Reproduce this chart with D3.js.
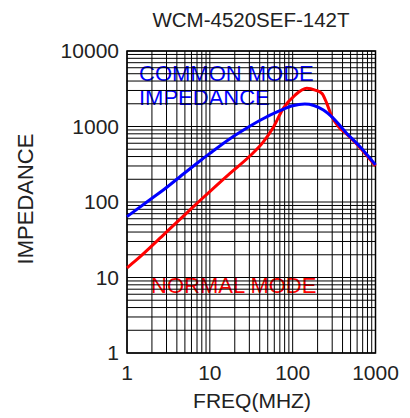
<!DOCTYPE html>
<html>
<head>
<meta charset="utf-8">
<script src="https://cdn.jsdelivr.net/npm/d3@7"></script>
<style>
  body { margin: 0; background: #fff; }
  text { font-family: Arial, "Liberation Sans", sans-serif; }
</style>
</head>
<body>
<div class="canvas"></div>
<script>
const title = "WCM-4520SEF-142T";
const xTicks = [1, 10, 100, 1000];
const yTicks = [1, 10, 100, 1000, 10000];

// common mode impedance
const cmFreq = [1, 2, 2.74, 5, 7, 10, 17.5, 30, 40, 70, 100, 140, 180, 235, 310, 450, 650, 1000];
const cmImp = [64, 112, 144, 244, 326, 440, 690, 1000, 1200, 1620, 1880, 1980, 1900, 1650, 1280, 810, 540, 310];

// normal mode impedance
const nmFreq = [1, 1.3, 2.74, 7, 17.5, 30, 44, 58, 77, 107, 148, 187, 225, 258, 297, 350, 450, 650, 1000];
const nmImp = [13.4, 17.1, 36.5, 96, 240, 400, 620, 960, 1740, 2610, 3200, 3040, 2750, 2030, 1350, 1020, 790, 525, 300];

const dims = { w: 410, h: 418 };
const plot = { left: 127, right: 375.5, top: 51, bottom: 353 };

const svg = d3
  .select(".canvas")
  .append("svg")
  .attr("width", dims.w)
  .attr("height", dims.h);

const x = d3.scaleLog().domain([1, 1000]).range([plot.left, plot.right]);
const y = d3.scaleLog().domain([1, 10000]).range([plot.bottom, plot.top]);

// labels inside the plot sit under the grid
const inner = svg.append("g").attr("font-size", 22);
inner.append("text").attr("x", 139).attr("y", 81).attr("fill", "#0000ff").text("COMMON MODE");
inner.append("text").attr("x", 139).attr("y", 105).attr("fill", "#0000ff").text("IMPEDANCE");
inner.append("text").attr("x", 151).attr("y", 293).attr("fill", "#ff0000").text("NORMAL MODE");

// grid
const grid = svg.append("g").attr("stroke", "#000").attr("stroke-width", 1);
grid
  .selectAll(".vx")
  .data(x.ticks())
  .enter()
  .append("line")
  .attr("x1", d => x(d))
  .attr("x2", d => x(d))
  .attr("y1", plot.top)
  .attr("y2", plot.bottom);
grid
  .selectAll(".hy")
  .data(y.ticks())
  .enter()
  .append("line")
  .attr("x1", plot.left)
  .attr("x2", plot.right)
  .attr("y1", d => y(d))
  .attr("y2", d => y(d));

svg
  .append("rect")
  .attr("x", plot.left)
  .attr("y", plot.top)
  .attr("width", plot.right - plot.left)
  .attr("height", plot.bottom - plot.top)
  .attr("fill", "none")
  .attr("stroke", "#000")
  .attr("stroke-width", 1.5);

// curves
const line = d3
  .line()
  .x(d => x(d[0]))
  .y(d => y(d[1]))
  .curve(d3.curveMonotoneX);

svg
  .append("path")
  .attr("d", line(d3.zip(nmFreq, nmImp)))
  .attr("fill", "none")
  .attr("stroke", "#ff0000")
  .attr("stroke-width", 3);

svg
  .append("path")
  .attr("d", line(d3.zip(cmFreq, cmImp)))
  .attr("fill", "none")
  .attr("stroke", "#0000ff")
  .attr("stroke-width", 3);

// tick labels
const labels = svg.append("g").attr("font-size", 21).attr("fill", "#222");
labels
  .selectAll(".xl")
  .data(xTicks)
  .enter()
  .append("text")
  .attr("x", d => x(d))
  .attr("y", 380)
  .attr("text-anchor", "middle")
  .text(d => d);
labels
  .selectAll(".yl")
  .data(yTicks)
  .enter()
  .append("text")
  .attr("x", 119)
  .attr("y", d => y(d))
  .attr("dy", "0.35em")
  .attr("text-anchor", "end")
  .text(d => d);

// titles
svg
  .append("text")
  .attr("x", 251)
  .attr("y", 27)
  .attr("text-anchor", "middle")
  .attr("font-size", 20.5)
  .attr("fill", "#222")
  .text(title);

svg
  .append("text")
  .attr("x", 252)
  .attr("y", 408)
  .attr("text-anchor", "middle")
  .attr("font-size", 21)
  .attr("fill", "#222")
  .text("FREQ(MHZ)");

svg
  .append("text")
  .attr("transform", `translate(33, 199) rotate(-90)`)
  .attr("text-anchor", "middle")
  .attr("font-size", 22)
  .attr("fill", "#222")
  .text("IMPEDANCE");
</script>
</body>
</html>
